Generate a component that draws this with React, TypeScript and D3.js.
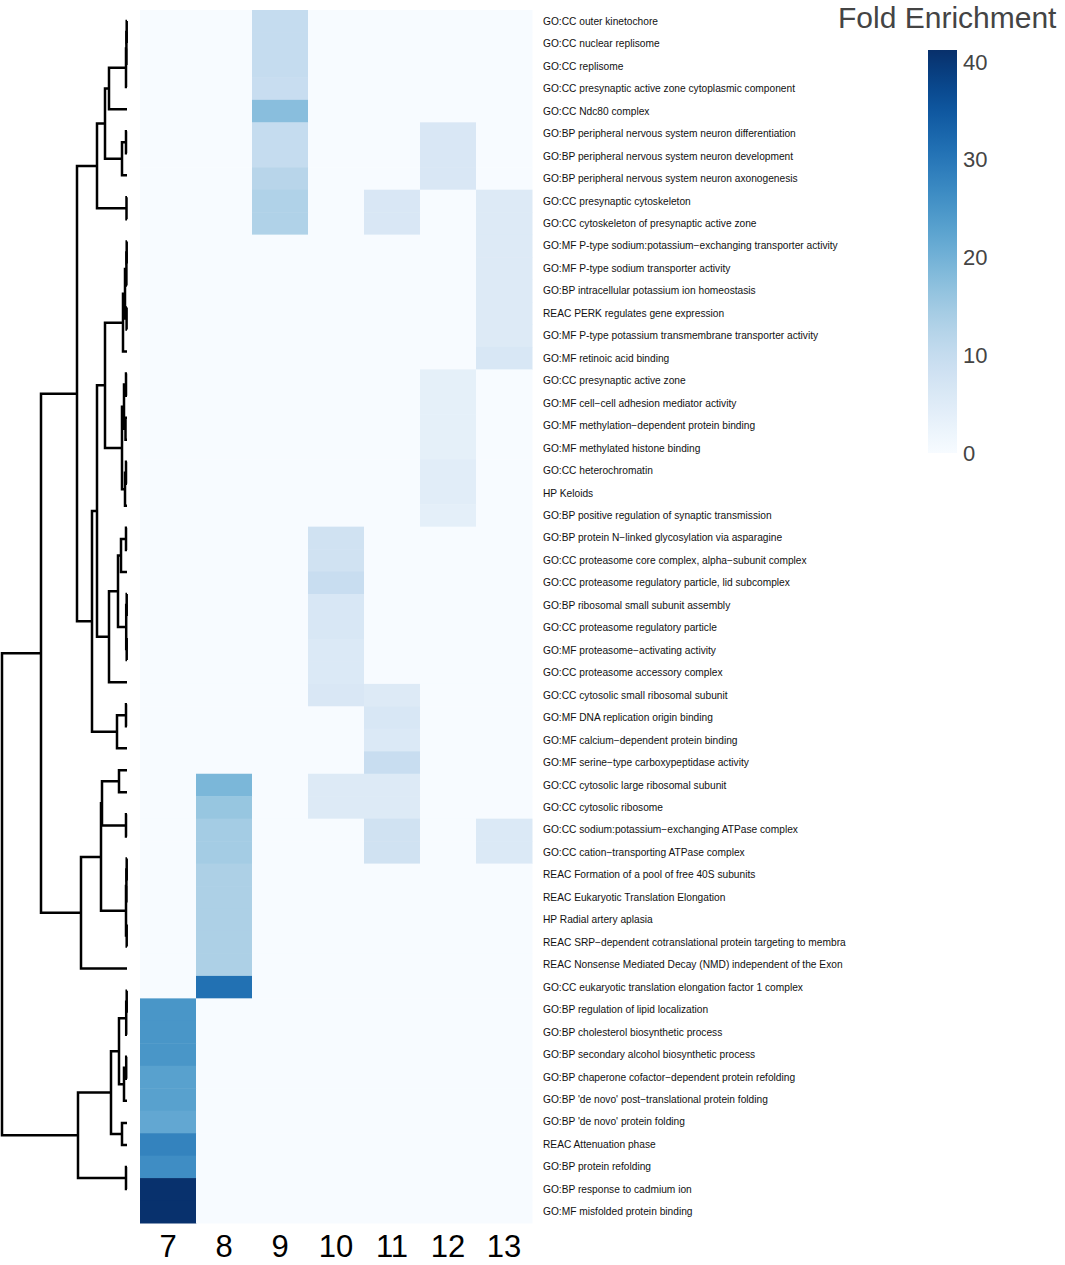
import * as d3 from "d3";
import * as React from "react";

const columns = ["7", "8", "9", "10", "11", "12", "13"];

const rowLabels = [
  "GO:CC outer kinetochore",
  "GO:CC nuclear replisome",
  "GO:CC replisome",
  "GO:CC presynaptic active zone cytoplasmic component",
  "GO:CC Ndc80 complex",
  "GO:BP peripheral nervous system neuron differentiation",
  "GO:BP peripheral nervous system neuron development",
  "GO:BP peripheral nervous system neuron axonogenesis",
  "GO:CC presynaptic cytoskeleton",
  "GO:CC cytoskeleton of presynaptic active zone",
  "GO:MF P-type sodium:potassium\u2212exchanging transporter activity",
  "GO:MF P-type sodium transporter activity",
  "GO:BP intracellular potassium ion homeostasis",
  "REAC PERK regulates gene expression",
  "GO:MF P-type potassium transmembrane transporter activity",
  "GO:MF retinoic acid binding",
  "GO:CC presynaptic active zone",
  "GO:MF cell\u2212cell adhesion mediator activity",
  "GO:MF methylation\u2212dependent protein binding",
  "GO:MF methylated histone binding",
  "GO:CC heterochromatin",
  "HP Keloids",
  "GO:BP positive regulation of synaptic transmission",
  "GO:BP protein N\u2212linked glycosylation via asparagine",
  "GO:CC proteasome core complex, alpha\u2212subunit complex",
  "GO:CC proteasome regulatory particle, lid subcomplex",
  "GO:BP ribosomal small subunit assembly",
  "GO:CC proteasome regulatory particle",
  "GO:MF proteasome\u2212activating activity",
  "GO:CC proteasome accessory complex",
  "GO:CC cytosolic small ribosomal subunit",
  "GO:MF DNA replication origin binding",
  "GO:MF calcium\u2212dependent protein binding",
  "GO:MF serine\u2212type carboxypeptidase activity",
  "GO:CC cytosolic large ribosomal subunit",
  "GO:CC cytosolic ribosome",
  "GO:CC sodium:potassium\u2212exchanging ATPase complex",
  "GO:CC cation\u2212transporting ATPase complex",
  "REAC Formation of a pool of free 40S subunits",
  "REAC Eukaryotic Translation Elongation",
  "HP Radial artery aplasia",
  "REAC SRP\u2212dependent cotranslational protein targeting to membra",
  "REAC Nonsense Mediated Decay (NMD) independent of the Exon",
  "GO:CC eukaryotic translation elongation factor 1 complex",
  "GO:BP regulation of lipid localization",
  "GO:BP cholesterol biosynthetic process",
  "GO:BP secondary alcohol biosynthetic process",
  "GO:BP chaperone cofactor\u2212dependent protein refolding",
  "GO:BP 'de novo' post\u2212translational protein folding",
  "GO:BP 'de novo' protein folding",
  "REAC Attenuation phase",
  "GO:BP protein refolding",
  "GO:BP response to cadmium ion",
  "GO:MF misfolded protein binding",
];

// fold enrichment per cluster column, one value per row (top to bottom)
const col7 = [
  0, 0, 0, 0, 0, 0, 0, 0, 0, 0, 0, 0, 0, 0, 0, 0, 0, 0, 0, 0, 0, 0, 0, 0, 0, 0, 0,
  0, 0, 0, 0, 0, 0, 0, 0, 0, 0, 0, 0, 0, 0, 0, 0, 0, 25, 25, 25, 23, 23, 21.8, 28,
  26.4, 41, 41,
];
const col8 = [
  0, 0, 0, 0, 0, 0, 0, 0, 0, 0, 0, 0, 0, 0, 0, 0, 0, 0, 0, 0, 0, 0, 0, 0, 0, 0, 0,
  0, 0, 0, 0, 0, 0, 0, 19, 16, 14.5, 14.5, 13.5, 13.5, 13.5, 13.5, 13.5, 31, 0, 0,
  0, 0, 0, 0, 0, 0, 0, 0,
];
const col9 = [
  10, 10, 10, 9.5, 17.5, 10, 10, 12, 13, 13, 0, 0, 0, 0, 0, 0, 0, 0, 0, 0, 0, 0, 0,
  0, 0, 0, 0, 0, 0, 0, 0, 0, 0, 0, 0, 0, 0, 0, 0, 0, 0, 0, 0, 0, 0, 0, 0, 0, 0, 0,
  0, 0, 0, 0,
];
const col10 = [
  0, 0, 0, 0, 0, 0, 0, 0, 0, 0, 0, 0, 0, 0, 0, 0, 0, 0, 0, 0, 0, 0, 0, 8, 8, 9.5,
  6.5, 6.5, 5.8, 5.8, 6.3, 0, 0, 0, 5.5, 5.5, 0, 0, 0, 0, 0, 0, 0, 0, 0, 0, 0, 0, 0,
  0, 0, 0, 0, 0,
];
const col11 = [
  0, 0, 0, 0, 0, 0, 0, 0, 6.3, 6.3, 0, 0, 0, 0, 0, 0, 0, 0, 0, 0, 0, 0, 0, 0, 0, 0,
  0, 0, 0, 0, 5.5, 6.5, 5.8, 9.5, 5.5, 5.5, 8, 8, 0, 0, 0, 0, 0, 0, 0, 0, 0, 0, 0, 0,
  0, 0, 0, 0,
];
const col12 = [
  0, 0, 0, 0, 0, 6.3, 6.3, 6.3, 0, 0, 0, 0, 0, 0, 0, 0, 3.7, 3.7, 3.7, 3.7, 4.5, 4.5,
  4, 0, 0, 0, 0, 0, 0, 0, 0, 0, 0, 0, 0, 0, 0, 0, 0, 0, 0, 0, 0, 0, 0, 0, 0, 0, 0, 0,
  0, 0, 0, 0,
];
const col13 = [
  0, 0, 0, 0, 0, 0, 0, 0, 5.5, 5.5, 5.5, 5.5, 5.5, 5.5, 5.5, 6.5, 0, 0, 0, 0, 0, 0,
  0, 0, 0, 0, 0, 0, 0, 0, 0, 0, 0, 0, 0, 0, 5.8, 5.8, 0, 0, 0, 0, 0, 0, 0, 0, 0, 0,
  0, 0, 0, 0, 0, 0,
];
const columnValues = [col7, col8, col9, col10, col11, col12, col13];

// hclust-style merges: negative = leaf (1-based row), positive = earlier merge
const merges: [number, number][] = [
  [-1, -2], [1, -3], [2, -4], [3, -5], [-6, -7], [5, -8], [4, 6], [-9, -10],
  [7, 8], [-11, -12], [10, -13], [-14, -15], [11, 12], [13, -16], [-17, -18],
  [-19, -20], [15, 16], [-21, -22], [18, -23], [17, 19], [14, 20], [-24, -25],
  [22, -26], [-27, -28], [-29, -30], [24, 25], [23, 26], [27, -31], [21, 28],
  [-32, -33], [30, -34], [29, 31], [9, 32], [-35, -36], [-37, -38], [34, 35],
  [-39, -40], [37, -41], [-42, -43], [38, 39], [36, 40], [41, -44], [33, 42],
  [-45, -46], [44, -47], [-48, -49], [46, -50], [45, 47], [-51, -52], [48, 49],
  [-53, -54], [50, 51], [43, 52],
];
const mergeHeights = [
  0.3, 0.6, 1, 18, 1, 5, 22, 0.5, 30, 0.3, 0.6, 0.4, 2, 4, 1, 1.5, 3, 1, 2, 5, 22,
  1, 6, 0.3, 0.3, 0.8, 9, 18, 30, 1, 10, 35, 50, 8, 1, 25, 0.3, 0.6, 0.3, 1, 26, 46,
  86, 0.3, 0.8, 0.8, 3, 8, 5, 16, 1, 49, 125,
];

const legendTicks = [0, 10, 20, 30, 40];

export default function App() {
  const width = 1065;
  const height = 1265;

  const x = d3.scaleBand<string>().domain(columns).range([140, 532]);
  const y = d3
    .scaleBand<string>()
    .domain(rowLabels.map((_, i) => String(i)))
    .range([10, 1223]);

  const maxValue = 41.2;
  const color = d3.scaleSequential(d3.interpolateBlues).domain([0, maxValue]);

  // dendrogram scales
  const dx = d3.scaleLinear([0, d3.max(mergeHeights) ?? 1], [127, 2]);
  const dy = d3.scaleLinear([0, rowLabels.length - 1], [21, 1189]);

  const nodeY: number[] = [];
  const pos = (id: number) =>
    id < 0
      ? { px: dx(0), py: dy(-id - 1) }
      : { px: dx(mergeHeights[id - 1]), py: nodeY[id - 1] };
  const paths = merges.map(([a, b], i) => {
    const pa = pos(a);
    const pb = pos(b);
    nodeY[i] = (pa.py + pb.py) / 2;
    const hx = dx(mergeHeights[i]);
    return `M${pa.px},${pa.py}H${hx}V${pb.py}H${pb.px}`;
  });

  const legendY = d3.scaleLinear([0, maxValue], [453, 50]);
  const gradStops = d3.range(0, 1.0001, 0.05);

  return (
    <svg
      width={width}
      height={height}
      style={{ position: "absolute", left: 0, top: 0, background: "#fff" }}
      fontFamily="Liberation Sans, Arial, sans-serif"
    >
      <defs>
        <linearGradient id="fe" x1="0" y1="1" x2="0" y2="0">
          {gradStops.map((t) => (
            <stop key={t} offset={t} stopColor={d3.interpolateBlues(t)} />
          ))}
        </linearGradient>
      </defs>

      <g>
        {columnValues.map((vals, c) =>
          vals.map((v, r) => (
            <rect
              key={`${c}-${r}`}
              x={x(columns[c])}
              y={y(String(r))}
              width={x.bandwidth() + 0.5}
              height={y.bandwidth() + 0.5}
              fill={color(v)}
            />
          ))
        )}
      </g>

      <g fill="none" stroke="#000" strokeWidth={2.5}>
        {paths.map((d, i) => (
          <path key={i} d={d} />
        ))}
      </g>

      <g fontSize={10.2} fill="#111">
        {rowLabels.map((label, i) => (
          <text
            key={i}
            x={543}
            y={(y(String(i)) ?? 0) + y.bandwidth() / 2}
            dy="0.35em"
          >
            {label}
          </text>
        ))}
      </g>

      <g fontSize={31} fill="#000" textAnchor="middle">
        {columns.map((c) => (
          <text key={c} x={(x(c) ?? 0) + x.bandwidth() / 2} y={1257}>
            {c}
          </text>
        ))}
      </g>

      <text x={838} y={28} fontSize={30} fill="#444">
        Fold Enrichment
      </text>
      <rect
        x={928}
        y={legendY(maxValue)}
        width={29}
        height={legendY(0) - legendY(maxValue)}
        fill="url(#fe)"
      />
      <g fontSize={22} fill="#444">
        {legendTicks.map((t) => (
          <text key={t} x={963} y={legendY(t)} dy="0.36em">
            {t}
          </text>
        ))}
      </g>
    </svg>
  );
}
